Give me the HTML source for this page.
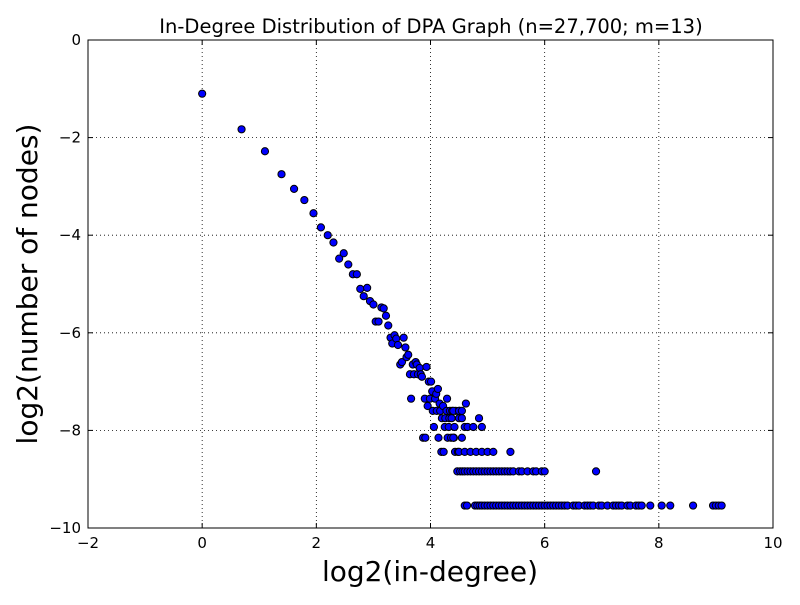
<!DOCTYPE html>
<html><head><meta charset="utf-8"><style>
body{margin:0;background:#fff;}
svg text{font-family:"DejaVu Sans","Liberation Sans",sans-serif;}
</style></head><body>
<svg id="chart" width="800" height="600">
<rect width="800" height="600" fill="#fff"/>
<g id="grid"></g><g id="pts"></g><g id="axes"></g>
<text x="431" y="33" font-size="19.5" text-anchor="middle">In-Degree Distribution of DPA Graph (n=27,700; m=13)</text>
<text x="430" y="581" font-size="28" text-anchor="middle">log2(in-degree)</text>
<text transform="translate(37,284) rotate(-90)" font-size="28" text-anchor="middle">log2(number of nodes)</text>
</svg>
<script>
const xTicks=[-2,0,2,4,6,8,10];
const yTicks=[0,-2,-4,-6,-8,-10];
const headX=[0,0.69,1.1,1.39,1.61,1.79,1.95,2.08,2.2,2.3,2.4,2.48,2.56,2.64,2.71,2.77,2.83,2.89,2.94,3.0,3.04,3.09,3.14,3.18,3.22,3.26,3.3,3.33,3.37,3.4,3.43,3.47,3.5,3.53,3.56,3.58,3.61,3.64,3.66,3.69,3.71,3.74,3.76,3.78,3.81,3.83,3.85,3.87,3.9,3.91,3.93,3.95,3.97,3.99,4.01,4.03,4.04,4.06,4.08,4.1,4.11,4.13,4.14,4.16,4.17,4.19,4.2,4.22,4.23,4.25,4.26,4.28,4.29,4.3,4.32,4.33,4.34,4.36,4.37,4.38,4.41,4.42,4.43,4.44,4.48,4.5,4.51,4.4,4.55,4.6,4.65,4.75,4.9,4.55,4.85,4.4,4.5,4.55,4.62];
const headY=[-1.1,-1.83,-2.28,-2.75,-3.05,-3.28,-3.55,-3.84,-4.0,-4.15,-4.48,-4.37,-4.6,-4.8,-4.8,-5.1,-5.25,-5.08,-5.35,-5.42,-5.77,-5.77,-5.48,-5.5,-5.65,-5.85,-6.1,-6.22,-6.05,-6.12,-6.25,-6.65,-6.6,-6.1,-6.3,-6.5,-6.45,-6.85,-7.35,-6.65,-6.85,-6.6,-6.65,-6.85,-6.72,-6.85,-6.9,-8.15,-7.35,-8.15,-6.7,-7.5,-7.0,-7.35,-7.0,-7.2,-7.6,-7.93,-7.35,-7.25,-7.6,-7.15,-8.15,-7.45,-7.6,-8.44,-7.75,-7.5,-8.44,-7.93,-7.75,-7.6,-7.35,-8.15,-7.93,-7.75,-7.6,-8.15,-7.75,-7.6,-8.15,-7.93,-8.44,-7.6,-8.44,-7.75,-7.6,-8.15,-8.15,-7.93,-7.93,-7.93,-7.93,-7.75,-7.75,-7.6,-7.6,-7.6,-7.45];
const row3X=[4.5,4.6,4.7,4.8,4.9,5.0,5.1,5.4];
const row3Y=-8.44;
const row2X=[4.47,4.52,4.56,4.6,4.65,4.7,4.75,4.8,4.85,4.9,4.95,5.0,5.05,5.1,5.15,5.2,5.25,5.3,5.35,5.4,5.45,5.55,5.6,5.7,5.8,5.85,5.95,6.0,6.9];
const row2Y=-8.84;
const row1X=[4.6,4.64,4.78,4.82,4.86,4.9,4.95,5.0,5.05,5.1,5.15,5.2,5.25,5.3,5.35,5.4,5.45,5.5,5.55,5.6,5.65,5.7,5.75,5.8,5.85,5.9,5.95,6.0,6.05,6.1,6.15,6.2,6.25,6.3,6.35,6.4,6.5,6.55,6.6,6.7,6.75,6.8,6.85,6.95,7.0,7.1,7.2,7.25,7.3,7.35,7.45,7.5,7.6,7.65,7.7,7.85,8.05,8.2,8.6,8.95,9.0,9.05,9.1];
const row1Y=-9.54;
const NS="http://www.w3.org/2000/svg";
const L=88,R=773,T=40,B=528;
function sx(v){return L+(v+2)/12*(R-L);}
function sy(v){return T+(0-v)/10*(B-T);}
function fmt(t){return t<0?'\u2212'+(-t):String(t);}
function mk(tag,attrs,parent){const e=document.createElementNS(NS,tag);for(const k in attrs)e.setAttribute(k,attrs[k]);parent.appendChild(e);return e;}
const grid=document.getElementById('grid'),axes=document.getElementById('axes'),pts=document.getElementById('pts');
xTicks.forEach(t=>{
  const x=sx(t);
  const g=mk('line',{x1:x,x2:x,y1:T,y2:B,stroke:'#000','stroke-width':0.8,'stroke-dasharray':'1,3'},grid);
  
  
  mk('line',{x1:x,x2:x,y1:B,y2:B-5,stroke:'#000'},axes);
  mk('line',{x1:x,x2:x,y1:T,y2:T+5,stroke:'#000'},axes);
  const tx=mk('text',{x:x,y:B+20,'font-size':15,'text-anchor':'middle'},axes);
  tx.textContent=fmt(t);
  
  
});
yTicks.forEach(t=>{
  const y=sy(t);
  const g=mk('line',{x1:L,x2:R,y1:y,y2:y,stroke:'#000','stroke-width':0.8,'stroke-dasharray':'1,3'},grid);
  
  
  mk('line',{x1:L,x2:L+5,y1:y,y2:y,stroke:'#000'},axes);
  mk('line',{x1:R,x2:R-5,y1:y,y2:y,stroke:'#000'},axes);
  const tx=mk('text',{x:L-7,y:y+5,'font-size':15,'text-anchor':'end'},axes);
  tx.textContent=fmt(t);
  
  
});
const fr=mk('rect',{x:L,y:T,width:R-L,height:B-T,fill:'none',stroke:'#000','stroke-width':1},axes);


function dot(x,y){
  const c=mk('circle',{cx:sx(x),cy:sy(y),r:3.6,fill:'#0000ff',stroke:'#000','stroke-width':1},pts);
  
  
}
headX.forEach((x,i)=>dot(x,headY[i]));
row3X.forEach(x=>dot(x,row3Y));
row2X.forEach(x=>dot(x,row2Y));
row1X.forEach(x=>dot(x,row1Y));
</script>
</body></html>
